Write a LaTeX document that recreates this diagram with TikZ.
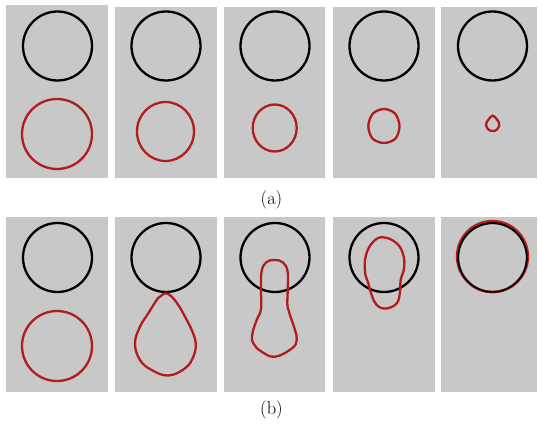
\documentclass[tikz,border=0pt]{standalone}
\usepackage{fontspec}
\usepackage{xcolor}
\usepackage{tikz}
\usetikzlibrary{positioning}

\definecolor{panelgray}{RGB}{200,200,200}
\definecolor{frontred}{RGB}{178,28,28}

\begin{document}
\begin{tikzpicture}[
  x=1pt, y=-1pt,
  panel/.style={fill=panelgray, draw=none},
  target/.style={draw=black, line width=2.3pt},
  front/.style={draw=frontred, line width=2.3pt},
  caption/.style={font=\fontsize{18.5pt}{22pt}\selectfont, inner sep=0pt},
]
\useasboundingbox (0,0) rectangle (538,425);

% gray panels, top row and bottom row
\foreach \px/\pw/\pt in {6/102/5, 115/102/7, 224/101/7, 333/102/7, 441/96/7}
  \fill[panel] (\px,\pt) rectangle ++(\pw,178-\pt);
\foreach \px/\pw in {6/102, 115/102, 224/101, 333/102, 441/96}
  \fill[panel] (\px,217) rectangle ++(\pw,175);

% target circles
\foreach \cx in {57.5, 166, 275, 384, 492.5} {
  \draw[target] (\cx,46) circle (34.5);
  \draw[target] (\cx,257.5) circle (34.5);
}

% (a) shrinking front
\draw[front] (57,134) circle (35);
\draw[front] (165.5,131.5) ellipse (28.5 and 29.5);
\draw[front] (274.7,128) ellipse (22 and 23.5);
\draw[front] plot[smooth cycle, tension=0.55] coordinates {
  (384,109) (395,113.5) (399.5,126) (395.5,138.5) (384,143)
  (372.5,138.5) (368.3,126) (373,113.5)};
\draw[front] plot[smooth cycle, tension=0.6] coordinates {
  (492.7,115.7) (497,119.5) (499.3,124.5) (497,129.5) (492.7,131)
  (488.3,129.5) (486,124.5) (488.5,119.5)};

% (b) front moving onto the target
\draw[front] (57,346) circle (35);
\draw[front] plot[smooth cycle, tension=0.7] coordinates {
  (165.7,293.3) (171.7,296.7) (178.3,305) (185,316.7) (191.7,330)
  (195.7,343.3) (193.3,356.7) (185,368.3) (168.3,375.5) (151.7,370)
  (140,360) (135,343.3) (140,326.7) (148.3,313.3) (156.7,300) (160,296.7)};
\draw[front] plot[smooth cycle, tension=0.7] coordinates {
  (274.3,260) (283,262.5) (287.7,272) (287.7,290) (287.5,306.7)
  (290.5,316.7) (295,330) (296.7,340) (292,348.3) (275,356.7)
  (261.7,351.7) (253.3,343.3) (252.5,333.3) (256.7,320) (261,309)
  (261,290) (261.5,272) (266,262.5)};
\draw[front] plot[smooth cycle, tension=0.7] coordinates {
  (383.3,237.3) (396.7,243.3) (403.3,255) (404,268.3) (400.7,280)
  (400,291.7) (396.7,303.3) (386,308.5) (376.7,305) (371.7,295)
  (368.3,283.3) (365,271.7) (366,255) (373.3,241.7)};
\draw[front] (492.5,256.5) circle (35.5);
\draw[target, line width=1.4pt] (492.5,257.5) circle (34.5);

% captions
\node[caption] (capa) at (271.5,200) {(a)};
\node[caption] (capb) at (271.5,410) {(b)};

\end{tikzpicture}
\end{document}
